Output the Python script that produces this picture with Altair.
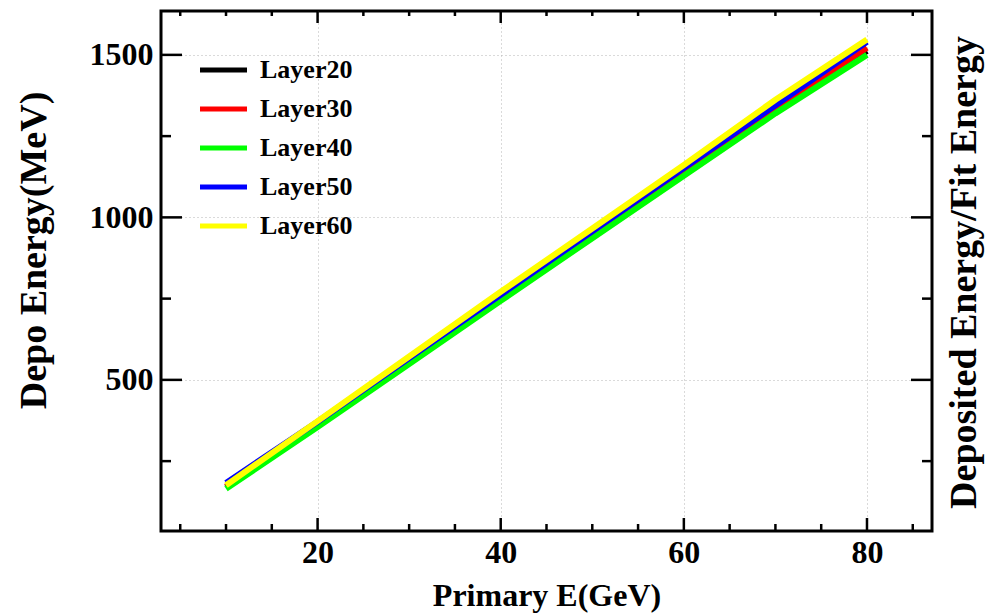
import altair as alt
import pandas as pd

# ---------------- data ----------------
energy = [10, 20, 30, 40, 50, 60, 70, 80]
series_names = ["Layer20", "Layer30", "Layer40", "Layer50", "Layer60"]
layer20 = [170, 362, 557, 752, 946, 1140, 1332, 1512]
layer30 = [172, 365, 561, 757, 951, 1146, 1338, 1522]
layer40 = [165, 355, 549, 743, 936, 1128, 1320, 1500]
layer50 = [183, 371, 567, 762, 957, 1152, 1345, 1540]
layer60 = [176, 373, 572, 771, 966, 1161, 1362, 1547]
colors = ["#000000", "#ff0000", "#00ff00", "#0000ff", "#ffff00"]

x_major = [20, 40, 60, 80]
x_minor = [5, 10, 15, 25, 30, 35, 45, 50, 55, 65, 70, 75, 85]
y_major = [500, 1000, 1500]
y_minor = [250, 750, 1250]

rows = []
for name, vals in zip(series_names, [layer20, layer30, layer40, layer50, layer60]):
    for e, v in zip(energy, vals):
        rows.append({"E": e, "dep": v, "series": name})
df = pd.DataFrame(rows)

FONT = "Liberation Serif"
W, H = 771, 520

xs = alt.Scale(domain=[2.9, 87.1], nice=False, zero=False)
ys = alt.Scale(domain=[35, 1635], nice=False, zero=False)
cs = alt.Scale(domain=series_names, range=colors)

xaxis = alt.Axis(values=x_major, format="d", grid=True, gridDash=[1, 3], gridColor="#b4b4b4",
                 ticks=False, tickSize=0, domain=False,
                 labelFont=FONT, labelFontWeight="bold", labelFontSize=32, labelColor="black",
                 labelPadding=6, title="Primary E(GeV)", titleFont=FONT, titleFontWeight="bold",
                 titleFontSize=32, titleColor="black", titleY=74, titleBaseline="alphabetic")
yaxis = alt.Axis(values=y_major, format="d", grid=True, gridDash=[1, 3], gridColor="#b4b4b4",
                 ticks=False, tickSize=0, domain=False,
                 labelFont=FONT, labelFontWeight="bold", labelFontSize=32, labelColor="black",
                 labelPadding=8, title="Depo Energy(MeV)", titleFont=FONT, titleFontWeight="bold",
                 titleFontSize=38, titleColor="black", titleAngle=270, titleX=-116, titleY=239,
                 titleBaseline="alphabetic", titleAlign="center")


def X(field):
    return alt.X(field, type="quantitative", scale=xs, axis=xaxis)


def Y(field):
    return alt.Y(field, type="quantitative", scale=ys, axis=yaxis)


lines = alt.Chart(df).mark_line(strokeWidth=6).encode(
    x=X("E"), y=Y("dep"),
    color=alt.Color("series:N", scale=cs, legend=None))

xmaj_df = pd.DataFrame({"v": x_major})
xmin_df = pd.DataFrame({"v": x_minor})
ymaj_df = pd.DataFrame({"v": y_major})
ymin_df = pd.DataFrame({"v": y_minor})

tick_layers = []
for d, y0, y1 in [(xmaj_df, H, H - 13), (xmin_df, H, H - 7), (xmaj_df, 0, 12), (xmin_df, 0, 5)]:
    tick_layers.append(alt.Chart(d).mark_rule(color="black", strokeWidth=2.5).encode(
        x=X("v"), y=alt.value(y0), y2=alt.value(y1)))
for d, x0, x1 in [(ymaj_df, 0, 21), (ymin_df, 0, 10), (ymaj_df, W, W - 21), (ymin_df, W, W - 10)]:
    tick_layers.append(alt.Chart(d).mark_rule(color="black", strokeWidth=2.5).encode(
        y=Y("v"), x=alt.value(x0), x2=alt.value(x1)))

main = alt.layer(lines, *tick_layers)

# ---------------- legend (manual) + right axis title ----------------
leg_df = pd.DataFrame({"series": series_names})
ly = alt.Y("series:N",
           scale=alt.Scale(type="point", domain=series_names, range=[59, 215], padding=0),
           axis=alt.Axis(orient="right", labels=False, ticks=False, domain=False, grid=False,
                         title="Deposited Energy/Fit Energy", titleFont=FONT,
                         titleFontWeight="bold", titleFontSize=38, titleColor="black",
                         titleAngle=270, titleX=43, titleY=261, titleBaseline="alphabetic",
                         titleAlign="center"))
leg_rule = alt.Chart(leg_df).mark_rule(strokeWidth=5).encode(
    y=ly, x=alt.value(39), x2=alt.value(86),
    color=alt.Color("series:N", scale=cs, legend=None))
leg_text = alt.Chart(leg_df).mark_text(align="left", baseline="middle", font=FONT,
                                       fontWeight="bold", fontSize=26, color="black").encode(
    y=ly, x=alt.value(99), text="series:N")
legend = alt.layer(leg_rule, leg_text)

chart = alt.layer(main, legend).resolve_scale(y="independent").properties(
    width=W, height=H,
    padding={"left": 161, "top": 11, "right": 54, "bottom": 82},
    autosize=alt.AutoSizeParams(type="none"),
    background="white",
).configure_view(stroke="black", strokeWidth=3)

chart.save("out.html", embed_options={"renderer": "svg", "actions": False})
